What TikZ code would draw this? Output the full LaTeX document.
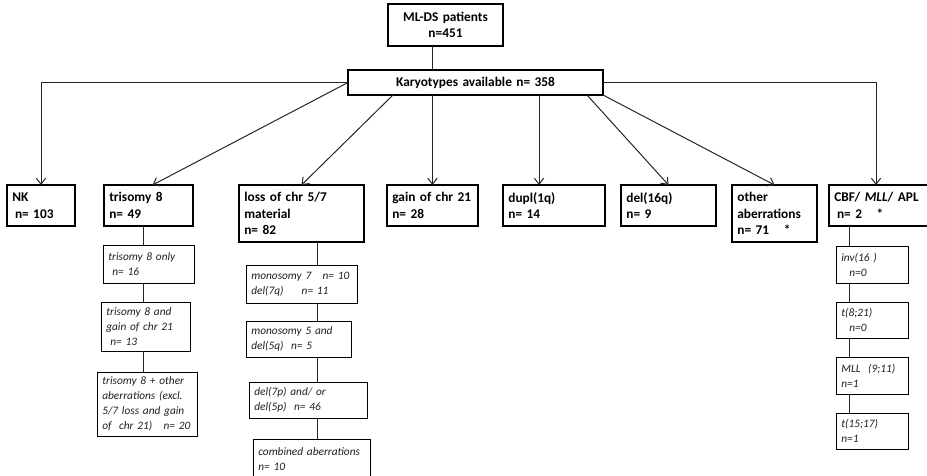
\documentclass[tikz,border=0pt]{standalone}
\usepackage{fontspec}
\setmainfont{Carlito}
\usepackage{tikz}
\usetikzlibrary{arrows.meta}

\tikzset{
    mainbox/.style 2 args={draw, line width=1pt, anchor=north west, outer sep=0pt,
        inner xsep=4pt, minimum width=#1*0.75pt, minimum height=#2*0.75pt,
        text width=#1*0.75pt-8pt, align=left, font=\fontsize{10}{12.5}\selectfont\bfseries},
    subbox/.style 2 args={mainbox={#1}{#2}, line width=0.75pt, text=black!88,
        font=\fontsize{8.5}{11.2}\selectfont\itshape},
    arr/.style={-{Straight Barb[length=4.5pt,width=7pt]}, line width=0.75pt, black!85},
    link/.style={line width=0.75pt, black!85}
}

\begin{document}
\begin{tikzpicture}[x=0.75pt, y=-0.75pt]
            \useasboundingbox (0,0) rectangle (927,475);
            \node[mainbox={115}{42}, align=center] (pat) at (388,4) {ML-DS patients\\n=451};
            \node[mainbox={255}{25}, align=center] (karyo) at (348,70) {Karyotypes available n= 358};

            \node[mainbox={68}{41}] (nk) at (7,185) {NK\\\hspace*{2pt}n= 103};
            \node[mainbox={89}{41}] (tri) at (104,185) {trisomy 8\\n= 49};
            \node[mainbox={125}{57}] (loss) at (239,185) {loss of chr 5/7\\material\\n= 82};
            \node[mainbox={91}{41}] (gain) at (387,185) {gain of chr 21\\n= 28};
            \node[mainbox={102}{41}] (dupl) at (503,185) {dupl(1q)\\n= 14};
            \node[mainbox={95}{41}] (delq) at (621,185) {del(16q)\\n= 9};
            \node[mainbox={85}{57}] (other) at (732,185) {other\\aberrations\\n= 71\hspace{1.1em}*};
            \node[mainbox={104}{41}] (cbf) at (829,185) {CBF/ \textit{MLL}/ APL\\\hspace*{2pt}n= 2\hspace{1.1em}*};

            \node[subbox={91}{38}] (t1) at (103,245) {trisomy 8 only\\\hspace*{3pt}n= 16};
            \node[subbox={89}{49}] (t2) at (101,302) {trisomy 8 and\\gain of chr 21\\\hspace*{3pt}n= 13};
            \node[subbox={100}{64}] (t3) at (97,372) {trisomy 8 + other\\aberrations (excl.\\5/7 loss and gain\\of~ chr 21)~~ n= 20};

            \node[subbox={111}{38}] (l1) at (246,265) {monosomy 7~~ n= 10\\del(7q)\hspace{1.6em}n= 11};
            \node[subbox={105}{36}] (l2) at (246,321) {monosomy 5 and\\del(5q)~~n= 5};
            \node[subbox={118}{36}] (l3) at (249,382) {del(7p) and/ or\\del(5p)~~n= 46};
            \node[subbox={117}{40}] (l4) at (253,439) {combined aberrations\\n= 10};

            \node[subbox={72}{37}] (c1) at (836,246) {inv(16 )\\\hspace*{6pt}n=0};
            \node[subbox={72}{36}] (c2) at (836,302) {t(8;21)\\\hspace*{6pt}n=0};
            \node[subbox={72}{37}] (c3) at (836,357) {MLL~ (9;11)\\n=1};
            \node[subbox={72}{36}] (c4) at (836,413) {t(15;17)\\n=1};

            \draw[link] (pat.south -| gain.north) -- (karyo.north -| gain.north);
            \draw[arr] (karyo.west) -| (nk.north);
            \draw[arr] (karyo.west) -- ([xshift=3pt]tri.north);
            \draw[arr] ([xshift=33.75pt]karyo.south west) -- (loss.north);
            \draw[arr] (karyo.south -| gain.north) -- (gain.north);
            \draw[arr] ([xshift=27pt]dupl.north west |- karyo.south) -- ([xshift=27pt]dupl.north west);
            \draw[arr] ([xshift=-12pt]karyo.south east) -- (delq.north);
            \draw[arr] (karyo.south east) -- (other.north);
            \draw[arr] (karyo.east) -| ([xshift=-3.75pt]cbf.north);

            \coordinate (trispine) at (143,0);
            \coordinate (lossspine) at (317,0);
            \coordinate (cbfspine) at (849,0);
            \draw[link] (tri.south -| trispine) -- (t1.north -| trispine);
            \draw[link] (t1.south -| trispine) -- (t2.north -| trispine);
            \draw[link] (t2.south -| trispine) -- (t3.north -| trispine);
            \draw[link] (loss.south -| lossspine) -- (l1.north -| lossspine);
            \draw[link] (l1.south -| lossspine) -- (l2.north -| lossspine);
            \draw[link] (l2.south -| lossspine) -- (l3.north -| lossspine);
            \draw[link] (l3.south -| lossspine) -- (l4.north -| lossspine);
            \draw[link] (cbf.south -| cbfspine) -- (c1.north -| cbfspine);
            \draw[link] (c1.south -| cbfspine) -- (c2.north -| cbfspine);
            \draw[link] (c2.south -| cbfspine) -- (c3.north -| cbfspine);
            \draw[link] (c3.south -| cbfspine) -- (c4.north -| cbfspine);
        \end{tikzpicture}
\end{document}
